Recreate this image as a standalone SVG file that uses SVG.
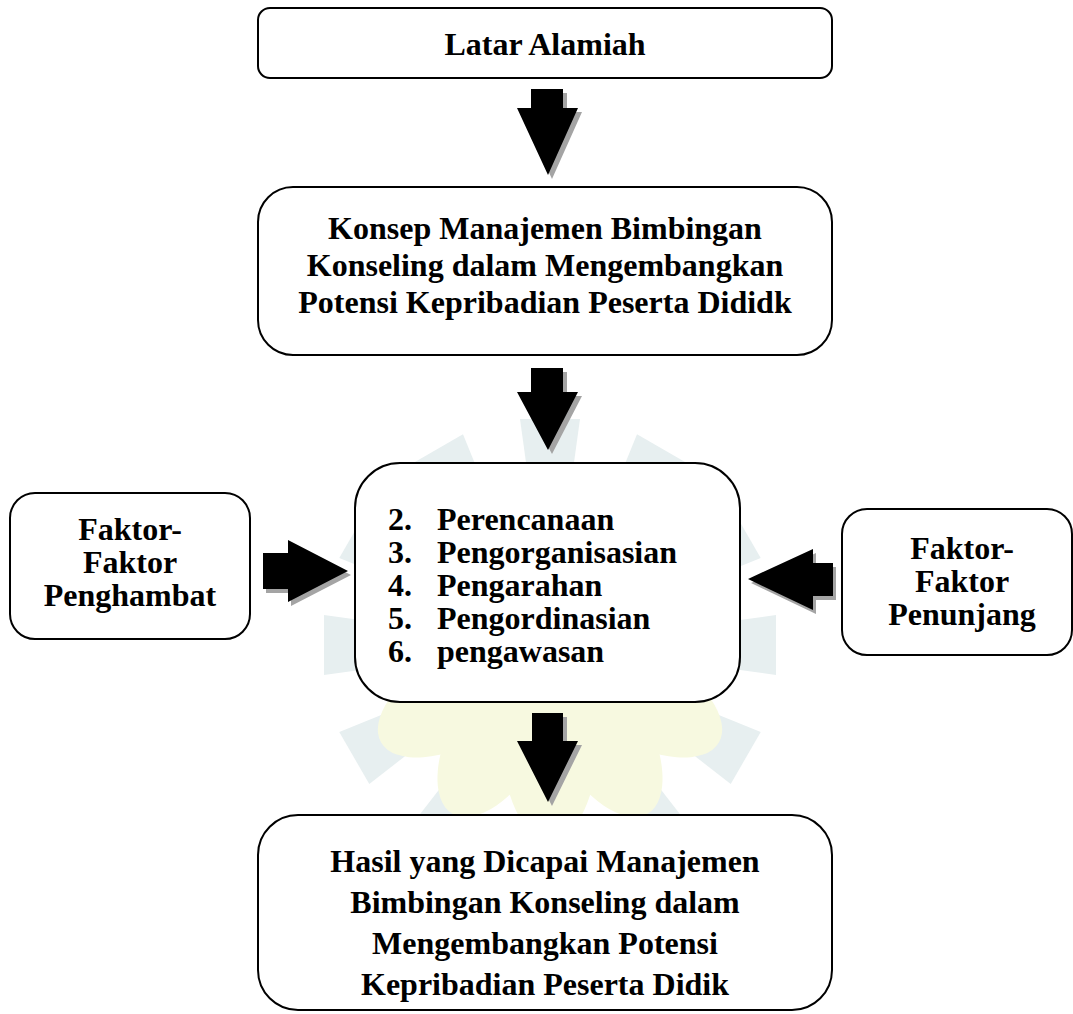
<svg xmlns="http://www.w3.org/2000/svg" width="1073" height="1014" viewBox="0 0 1073 1014">
<style>
.box{fill:#fff;stroke:#000;stroke-width:2}
.t{font-family:"Liberation Serif","Times New Roman",serif;font-weight:bold;font-size:32px;fill:#000}
.c{text-anchor:middle}
.arr{fill:#000}
.shd{fill:#a4a4a4}
.ray{fill:#e7eff0}
.petal{fill:#f7f9e0}
</style>
<defs>
<polygon id="ray" points="-22,-168 22,-168 30,-226 -30,-226"/>
<ellipse id="petal" cx="0" cy="-95" rx="48" ry="100"/>
</defs>
<rect width="1073" height="1014" fill="#fff"/>
<g id="watermark" transform="translate(550 645)">
<g class="ray">
<use href="#ray" transform="rotate(0)"/><use href="#ray" transform="rotate(30)"/><use href="#ray" transform="rotate(60)"/>
<use href="#ray" transform="rotate(90)"/><use href="#ray" transform="rotate(120)"/><use href="#ray" transform="rotate(150)"/>
<use href="#ray" transform="rotate(180)"/><use href="#ray" transform="rotate(210)"/><use href="#ray" transform="rotate(240)"/>
<use href="#ray" transform="rotate(270)"/><use href="#ray" transform="rotate(300)"/><use href="#ray" transform="rotate(330)"/>
</g>
<g class="petal">
<use href="#petal" transform="rotate(150)"/><use href="#petal" transform="rotate(180)"/><use href="#petal" transform="rotate(210)"/>
<use href="#petal" transform="rotate(120)"/><use href="#petal" transform="rotate(240)"/>
</g>
</g>
<g id="connectors">
<polygon class="shd" points="535,93 567,93 567,112 582,112 552,179 521,112 535,112"/>
<polygon class="arr" points="531,89 563,89 563,108 578,108 548,175 517,108 531,108"/>
<polygon class="shd" points="535,372 567,372 567,396 582,396 552,454 521,396 535,396"/>
<polygon class="arr" points="531,368 563,368 563,392 578,392 548,450 517,392 531,392"/>
<polygon class="shd" points="536,717 567,717 567,745 582,745 552,806 521,745 536,745"/>
<polygon class="arr" points="532,713 563,713 563,741 578,741 548,802 517,741 532,741"/>
<polygon class="shd" points="266,557 291,557 291,544 351,575 291,606 291,593 266,593"/>
<polygon class="arr" points="263,553 288,553 288,540 348,571 288,602 288,589 263,589"/>
<polygon class="shd" points="751,583 816,553 816,567 836,567 836,600 816,600 816,614"/>
<polygon class="arr" points="748,579 813,549 813,563 833,563 833,596 813,596 813,610"/>
</g>
<g id="n1">
<rect class="box" x="258" y="8" width="574" height="70" rx="12"/>
<text class="t c" x="545" y="55">Latar Alamiah</text>
</g>
<g id="n2">
<rect class="box" x="258" y="187" width="574" height="168" rx="35"/>
<text class="t c" x="545" y="239">Konsep Manajemen Bimbingan</text>
<text class="t c" x="545" y="276">Konseling dalam Mengembangkan</text>
<text class="t c" x="545" y="313">Potensi Kepribadian Peserta Dididk</text>
</g>
<g id="n3">
<rect class="box" x="355" y="463" width="385" height="239" rx="45"/>
<text class="t" x="388" y="530">2.</text><text class="t" x="437" y="530">Perencanaan</text>
<text class="t" x="388" y="563">3.</text><text class="t" x="437" y="563">Pengorganisasian</text>
<text class="t" x="388" y="596">4.</text><text class="t" x="437" y="596">Pengarahan</text>
<text class="t" x="388" y="629">5.</text><text class="t" x="437" y="629">Pengordinasian</text>
<text class="t" x="388" y="662">6.</text><text class="t" x="437" y="662">pengawasan</text>
</g>
<g id="n4">
<rect class="box" x="10" y="493" width="240" height="146" rx="25"/>
<text class="t c" x="130" y="540">Faktor-</text>
<text class="t c" x="130" y="573">Faktor</text>
<text class="t c" x="130" y="606">Penghambat</text>
</g>
<g id="n5">
<rect class="box" x="842" y="509" width="230" height="146" rx="25"/>
<text class="t c" x="962" y="559">Faktor-</text>
<text class="t c" x="962" y="592">Faktor</text>
<text class="t c" x="962" y="625">Penunjang</text>
</g>
<g id="n6">
<rect class="box" x="258" y="815" width="574" height="195" rx="40"/>
<text class="t c" x="545" y="872">Hasil yang Dicapai Manajemen</text>
<text class="t c" x="545" y="913">Bimbingan Konseling dalam</text>
<text class="t c" x="545" y="954">Mengembangkan Potensi</text>
<text class="t c" x="545" y="995">Kepribadian Peserta Didik</text>
</g>
</svg>
